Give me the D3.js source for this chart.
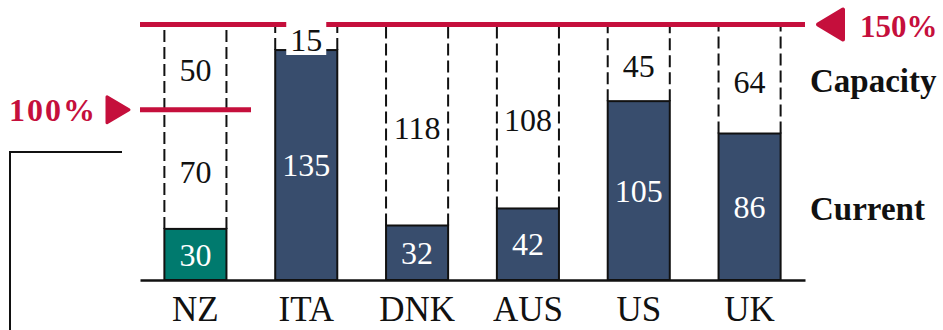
<!DOCTYPE html>
<html>
<head>
<meta charset="utf-8">
<script src="https://cdn.jsdelivr.net/npm/d3@7"></script>
<style>
  html, body { margin: 0; padding: 0; background: #fff; }
  svg { display: block; }
  text { font-family: "Liberation Serif", "DejaVu Serif", serif; }
</style>
</head>
<body>
<svg id="chart" width="943" height="330"></svg>
<script>
// Current utilisation and remaining headroom (to the 150% ceiling)
const countries = ["NZ", "ITA", "DNK", "AUS", "US", "UK"];
const current   = [30, 135, 32, 42, 105, 86];
const headroom  = [120, 15, 118, 108, 45, 64];
// NZ headroom split at the 100% threshold
const nzSplit   = [70, 50];
const ceiling   = 150;
const threshold = 100;
const levelLabels = ["100%", "150%"];
const rowLabels   = ["Capacity", "Current"];

const navy = "#384d6d", teal = "#007a6e", crimson = "#c50f3c";

const svg = d3.select("#chart");

const x = d3.scaleBand().domain(countries).range([140, 805])
  .paddingInner(0.44).paddingOuter(0.22);
const y = d3.scaleLinear().domain([0, ceiling]).range([280, 24.5]);
const bw = x.bandwidth();

const data = countries.map((c, i) => ({ c, cur: current[i], head: headroom[i] }));

// dashed capacity outlines from the bar top to the ceiling
const dash = svg.append("g");
data.forEach(d => {
  [x(d.c), x(d.c) + bw].forEach(xx => {
    dash.append("line")
      .attr("x1", xx).attr("x2", xx)
      .attr("y1", y(d.cur)).attr("y2", y(d.cur + d.head))
      .attr("stroke", "#111").attr("stroke-width", 2)
      .attr("stroke-dasharray", "12,5");
  });
});

// current bars
svg.append("g").selectAll("rect").data(data).join("rect")
  .attr("x", d => x(d.c)).attr("width", bw)
  .attr("y", d => y(d.cur)).attr("height", d => y(0) - y(d.cur))
  .attr("fill", d => d.c === "NZ" ? teal : navy)
  .attr("stroke", "#111").attr("stroke-width", 2);

// baseline and country labels
const axis = d3.axisBottom(x).tickSize(0).tickPadding(0);
const gx = svg.append("g").attr("transform", `translate(0,${y(0)})`).call(axis);
gx.select(".domain").attr("stroke", "#111").attr("stroke-width", 2.5);
gx.selectAll(".tick text")
  .attr("y", 0).attr("dy", 41)
  .attr("font-size", 35).attr("fill", "#111")
  .style("font-family", "Liberation Serif, serif");

// ceiling line
svg.append("line").attr("x1", 140).attr("x2", 805)
  .attr("y1", y(ceiling)).attr("y2", y(ceiling))
  .attr("stroke", crimson).attr("stroke-width", 5);

// 100% threshold line over NZ
svg.append("line").attr("x1", 140).attr("x2", 251)
  .attr("y1", y(threshold)).attr("y2", y(threshold))
  .attr("stroke", crimson).attr("stroke-width", 5);

// value labels inside current bars
svg.append("g").selectAll("text").data(data).join("text")
  .attr("x", d => x(d.c) + bw / 2)
  .attr("y", d => (y(0) + y(d.cur)) / 2)
  .attr("dy", "0.35em").attr("text-anchor", "middle")
  .attr("font-size", 32).attr("fill", "#fff")
  .text(d => d.cur);

// headroom labels
const headLabels = [];
data.forEach(d => {
  if (d.c === "NZ") {
    headLabels.push({ c: d.c, v: nzSplit[0], lo: d.cur, hi: d.cur + nzSplit[0] });
    headLabels.push({ c: d.c, v: nzSplit[1], lo: d.cur + nzSplit[0], hi: ceiling });
  } else {
    headLabels.push({ c: d.c, v: d.head, lo: d.cur, hi: d.cur + d.head });
  }
});
const hl = svg.append("g");
headLabels.forEach(h => {
  const cx = x(h.c) + bw / 2;
  let cy = (y(h.lo) + y(h.hi)) / 2 + 3;
  if (h.c === "ITA") {
    cy = 40;
    hl.append("rect").attr("x", cx - 20).attr("y", 19)
      .attr("width", 40).attr("height", 36).attr("fill", "#fff");
  }
  hl.append("text").attr("x", cx).attr("y", cy)
    .attr("dy", "0.35em").attr("text-anchor", "middle")
    .attr("font-size", 32).attr("fill", "#111")
    .text(h.v);
});

// level markers
const yT = y(threshold), yC = y(ceiling);
svg.append("path")
  .attr("d", `M107,${yT - 13} L129,${yT} L107,${yT + 13} Z`)
  .attr("fill", crimson).attr("stroke", crimson)
  .attr("stroke-width", 3).attr("stroke-linejoin", "round");
svg.append("text").attr("x", 97).attr("y", yT).attr("dy", "0.35em")
  .attr("text-anchor", "end").attr("font-size", 32).attr("font-weight", "bold")
  .attr("letter-spacing", 2)
  .attr("fill", crimson).text(levelLabels[0]);

svg.append("path")
  .attr("d", `M818,${yC} L843,${yC - 15} L843,${yC + 15} Z`)
  .attr("fill", crimson).attr("stroke", crimson)
  .attr("stroke-width", 4).attr("stroke-linejoin", "round");
svg.append("text").attr("x", 860).attr("y", yC + 2).attr("dy", "0.35em")
  .attr("font-size", 31).attr("font-weight", "bold")
  .attr("fill", crimson).text(levelLabels[1]);

// row labels
svg.append("text").attr("x", 810).attr("y", 80).attr("dy", "0.35em")
  .attr("font-size", 33).attr("font-weight", "bold").attr("fill", "#111")
  .text(rowLabels[0]);
svg.append("text").attr("x", 810).attr("y", 208).attr("dy", "0.35em")
  .attr("font-size", 33).attr("font-weight", "bold").attr("fill", "#111")
  .text(rowLabels[1]);

// left bracket
svg.append("path").attr("d", "M122,152 L10,152 L10,332")
  .attr("fill", "none").attr("stroke", "#111").attr("stroke-width", 2);
</script>
</body>
</html>
